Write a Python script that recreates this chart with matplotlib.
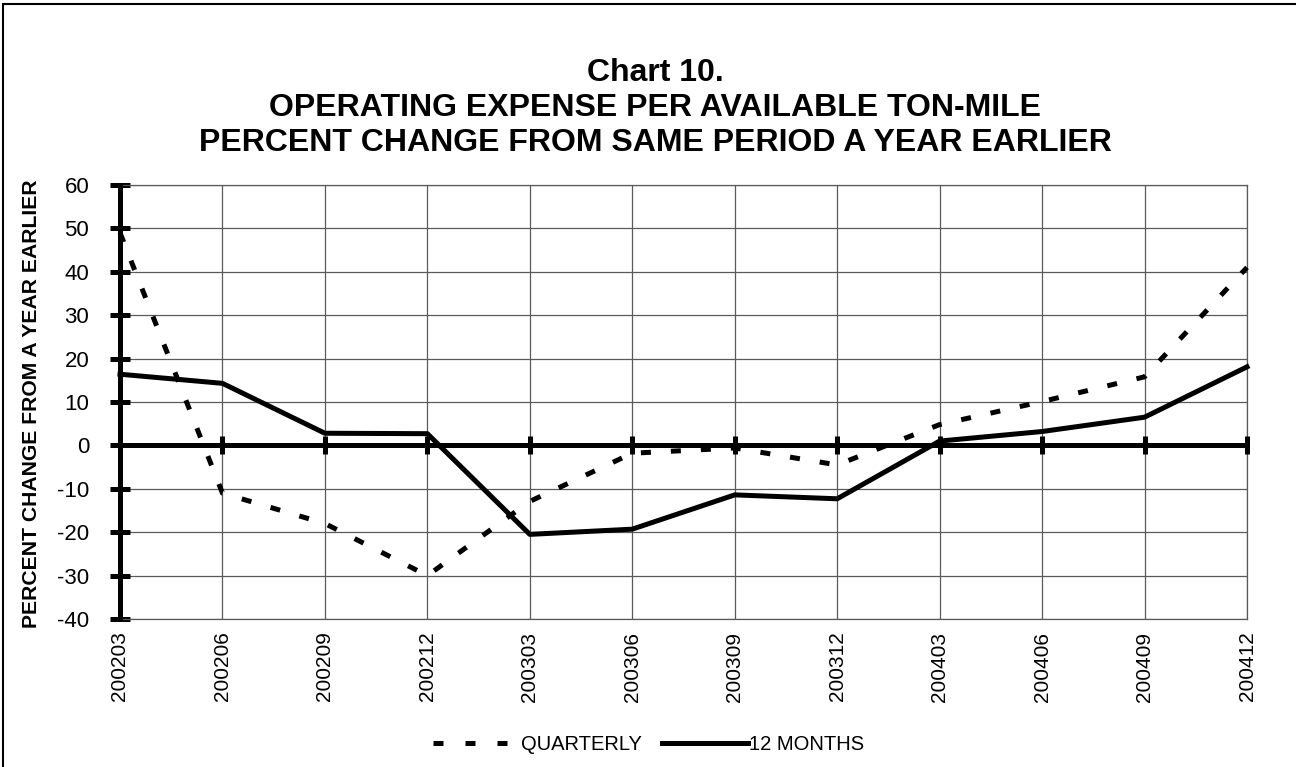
import matplotlib
matplotlib.use("Agg")
import matplotlib.pyplot as plt
from matplotlib.patches import Rectangle
from matplotlib.lines import Line2D

plt.rcParams['font.family'] = ['Liberation Sans', 'DejaVu Sans']
plt.rcParams['lines.scale_dashes'] = False
plt.rcParams['axes.unicode_minus'] = False

periods = ["200203", "200206", "200209", "200212", "200303", "200306",
           "200309", "200312", "200403", "200406", "200409", "200412"]
quarterly = [49.0, -11.0, -18.0, -30.0, -12.9, -1.8, -0.6, -4.5, 4.8, 10.1, 15.8, 41.0]
twelve_months = [16.4, 14.3, 2.8, 2.7, -20.5, -19.3, -11.4, -12.3, 1.0, 3.2, 6.5, 18.1]
yticks = list(range(-40, 61, 10))

W, H = 1296, 767
fig = plt.figure(figsize=(W / 100, H / 100), dpi=100)
ax = fig.add_axes([120 / W, (H - 619) / H, (1247 - 120) / W, (619 - 185) / H])

x = list(range(len(periods)))
grid_c = '#5a5a5a'

ax.plot(x, quarterly, color='black', lw=3.6, linestyle=(0, (7.2, 14.4)),
        solid_capstyle='butt', dash_capstyle='butt', label='QUARTERLY', zorder=4, clip_on=False)
ax.plot(x, twelve_months, color='black', lw=3.6, label='12 MONTHS', zorder=4, clip_on=False)

ax.set_xlim(0, len(periods) - 1)
ax.set_ylim(-40, 60)
ax.set_yticks(yticks)
ax.set_xticks(x)
ax.set_xticklabels(periods, rotation=90, fontsize=15)
ax.tick_params(axis='x', length=0, pad=9)
ax.tick_params(axis='y', direction='inout', length=14.4, width=3.6, labelsize=16, pad=15)
ax.grid(True, color=grid_c, lw=0.9)
ax.set_axisbelow(True)

for s in ['top', 'right', 'bottom']:
    ax.spines[s].set_color(grid_c)
    ax.spines[s].set_linewidth(0.9)
ax.spines['left'].set_linewidth(3.6)
ax.spines['left'].set_zorder(5)

# zero line with tick marks
zax = ax.secondary_xaxis(0.4)
zax.set_xticks(x)
zax.tick_params(axis='x', direction='inout', length=13, width=3.6, labelbottom=False, labeltop=False)
zax.spines['bottom'].set_linewidth(3.6)
zax.spines['top'].set_linewidth(3.6)
zax.set_zorder(3)

ax.set_ylabel('PERCENT CHANGE FROM A YEAR EARLIER', fontsize=15.2, fontweight='bold')
ax.yaxis.set_label_coords((41 - 120) / (1247 - 120), 0.497)

fig.text(655 / W, 1 - 73 / H, 'Chart 10.', ha='center', va='center', fontsize=23, fontweight='bold')
fig.text(655 / W, 1 - 108 / H, 'OPERATING EXPENSE PER AVAILABLE TON-MILE', ha='center', va='center',
         fontsize=23, fontweight='bold')
fig.text(655 / W, 1 - 143 / H, 'PERCENT CHANGE FROM SAME PERIOD A YEAR EARLIER', ha='center', va='center',
         fontsize=23, fontweight='bold')

h1 = Line2D([], [], color='black', lw=3.6, linestyle=(0, (7.2, 15.84)))
h2 = Line2D([], [], color='black', lw=3.6)
leg1 = fig.legend([h1], ['QUARTERLY'], loc='center left', bbox_to_anchor=(433 / W, 1 - 745 / H),
                  frameon=False, fontsize=14.5, handlelength=3.67, handletextpad=0.72,
                  borderpad=0, borderaxespad=0)
leg2 = fig.legend([h2], ['12 MONTHS'], loc='center left', bbox_to_anchor=(662 / W, 1 - 745 / H),
                  frameon=False, fontsize=14.5, handlelength=4.25, handletextpad=0.08,
                  borderpad=0, borderaxespad=0)

fig.add_artist(Rectangle((3 / W, -0.1), 2, 1.1 - 4 / H, transform=fig.transFigure, fill=False,
                         edgecolor='black', lw=1.5, clip_on=False))

fig.savefig('out.png', dpi=100)
